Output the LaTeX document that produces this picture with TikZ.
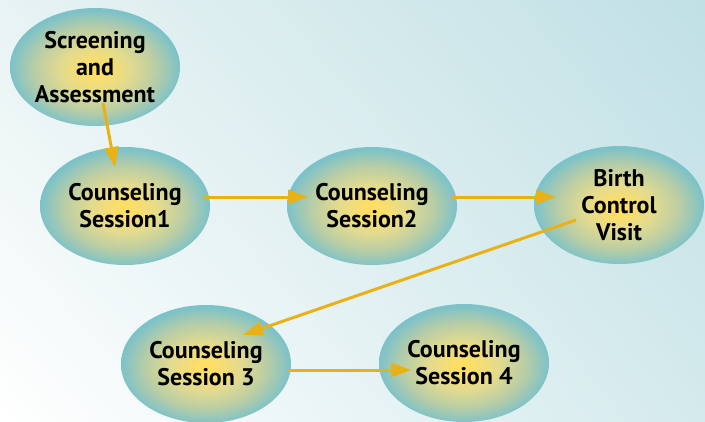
\documentclass[tikz,border=0pt]{standalone}
\usepackage{fontspec}
\setmainfont{PT Sans}
\usetikzlibrary{shapes.geometric,arrows.meta,shadings}

\definecolor{glowin}{RGB}{255,222,100}
\definecolor{glowmid}{RGB}{228,219,142}
\definecolor{glowrim}{RGB}{184,205,166}
\definecolor{glowout}{RGB}{124,194,201}
\definecolor{arrowgold}{RGB}{232,178,22}
\definecolor{bgul}{RGB}{232,243,243}
\definecolor{bgur}{RGB}{192,224,229}
\definecolor{bglr}{RGB}{212,234,237}

\pgfdeclareradialshading{stageglow}{\pgfpoint{0bp}{-1.5bp}}{color(0bp)=(glowin); color(2bp)=(glowin); color(10bp)=(glowmid); color(18bp)=(glowrim); color(25bp)=(glowout); color(50bp)=(glowout)}

\begin{document}
\begin{tikzpicture}[x=1pt,y=-1pt]

\tikzstyle{stage}=[ellipse,shading=stageglow,minimum width=170pt,minimum height=118pt,inner sep=0pt,align=center,font=\fontsize{24}{27}\selectfont\bfseries]
\tikzstyle{flow}=[draw=arrowgold,line width=3pt,-{Triangle[length=20pt,width=14pt]}]

\clip (0,0) rectangle (705,421) ;
\shade[upper left=bgul,upper right=bgur,lower left=white,lower right=bglr] (0,0) rectangle (705,421) ;

\draw ( 95,67) node [stage] (scr) {Screening\\and\\Assessment} ;
\draw (125,206) node [stage] (s1) {Counseling\\Session1} ;
\draw (372,206) node [stage] (s2) {Counseling\\Session2} ;
\draw (619,205) node [stage] (bcv) {Birth\\Control\\Visit} ;
\draw (206,364) node [stage] (s3) {Counseling\\Session 3} ;
\draw (464,363) node [stage] (s4) {Counseling\\Session 4} ;

\draw[flow] ([xshift=8pt,yshift=-36pt]scr.center) -- ([xshift=-10pt,yshift=39pt]s1.center) ;
\draw[flow] ([xshift=79pt,yshift=9pt]s1.center) -- ([xshift=-64pt,yshift=9pt]s2.center) ;
\draw[flow] ([xshift=80pt,yshift=9pt]s2.center) -- ([xshift=-63pt,yshift=8pt]bcv.center) ;
\draw[flow] ([xshift=-43pt,yshift=-15pt]bcv.center) -- ([xshift=37pt,yshift=29pt]s3.center) ;
\draw[flow] ([xshift=82pt,yshift=-6pt]s3.center) -- ([xshift=-53pt,yshift=-7pt]s4.center) ;

\end{tikzpicture}
\end{document}
